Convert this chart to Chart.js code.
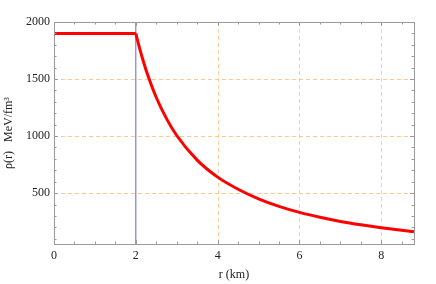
<!DOCTYPE html>
<html>
<head>
<meta charset="utf-8">
<script src="https://cdn.jsdelivr.net/npm/chart.js@4"></script>
<style>
html,body{margin:0;padding:0;background:#fff;}
#wrap{width:436px;height:284px;}
</style>
</head>
<body>
<div id="wrap"><canvas id="c" width="436" height="284"></canvas></div>
<script>
// ---- data ----
const coreR = [0, 2];
const coreRho = [1900, 1900];
const outerR = [2, 2.1, 2.2, 2.3, 2.5, 2.75, 3, 3.5, 4, 4.5, 5, 5.5, 6, 6.5, 7, 7.5, 8, 8.5, 8.8];
const outerRho = [1900, 1760, 1636, 1526, 1338, 1153, 1005, 789, 640, 534, 450, 384, 331, 288, 252, 222, 196, 174, 162];
const boundaryR = 2;
const xTicks = [0, 2, 4, 6, 8];
const yTicks = [500, 1000, 1500, 2000];
const xGridAt = [4, 6, 8];
const yGridAt = [500, 1000, 1500];
const xRange = [0, 8.8];
const yRange = [54, 2000];

const toPts = (xs, ys) => xs.map((x, i) => ({x: x, y: ys[i]}));

const gridPlugin = {
  id: 'mgrid',
  beforeDatasetsDraw(chart) {
    const {ctx, chartArea: a, scales: {x, y}} = chart;
    ctx.save();
    ctx.lineWidth = 1;
    ctx.setLineDash([4, 3]);
    ctx.strokeStyle = 'rgb(255,205,155)';
    ctx.beginPath();
    xGridAt.forEach(v => {
      const px = Math.round(x.getPixelForValue(v)) + 0.5;
      ctx.moveTo(px, a.top); ctx.lineTo(px, a.bottom);
    });
    ctx.stroke();
    ctx.strokeStyle = 'rgb(255,200,145)';
    ctx.beginPath();
    yGridAt.forEach(v => {
      const py = Math.round(y.getPixelForValue(v)) + 0.5;
      ctx.moveTo(a.left, py); ctx.lineTo(a.right, py);
    });
    ctx.stroke();
    ctx.restore();
  }
};

const framePlugin = {
  id: 'frame',
  afterDatasetsDraw(chart) {
    const {ctx, chartArea: a, scales: {x, y}} = chart;
    ctx.save();
    ctx.strokeStyle = '#9a9a9a';
    ctx.lineWidth = 1;
    ctx.strokeRect(a.left + 0.5, a.top + 0.5, a.right - a.left, a.bottom - a.top);
    ctx.beginPath();
    for (let v = xRange[0]; v <= xRange[1] + 1e-9; v += 0.5) {
      const px = Math.round(x.getPixelForValue(v)) + 0.5;
      const major = Math.abs(v / 2 - Math.round(v / 2)) < 1e-6;
      const L = major ? 4 : 2.5;
      ctx.moveTo(px, a.bottom); ctx.lineTo(px, a.bottom - L);
      ctx.moveTo(px, a.top); ctx.lineTo(px, a.top + L);
    }
    for (let v = 100; v <= yRange[1] + 1e-9; v += 100) {
      const py = Math.round(y.getPixelForValue(v)) + 0.5;
      const major = v % 500 === 0;
      const L = major ? 4 : 2.5;
      ctx.moveTo(a.left, py); ctx.lineTo(a.left + L, py);
      ctx.moveTo(a.right, py); ctx.lineTo(a.right - L, py);
    }
    ctx.stroke();
    ctx.restore();
  }
};

const noGrid = {display: true, drawOnChartArea: false, drawTicks: false, color: 'rgba(0,0,0,0)'};

new Chart(document.getElementById('c'), {
  type: 'line',
  data: {
    datasets: [
      {
        data: [{x: boundaryR, y: yRange[0]}, {x: boundaryR, y: yRange[1]}],
        borderColor: 'rgb(100,100,215)', borderWidth: 1, pointRadius: 0, order: 2
      },
      {
        data: toPts(coreR, coreRho),
        borderColor: 'rgb(255,0,0)', borderWidth: 3, pointRadius: 0, order: 1
      },
      {
        data: toPts(outerR, outerRho),
        borderColor: 'rgb(255,0,0)', borderWidth: 3, pointRadius: 0,
        cubicInterpolationMode: 'monotone', order: 1
      }
    ]
  },
  options: {
    responsive: false,
    animation: false,
    layout: {padding: {top: 22, right: 22, left: 0, bottom: 0}},
    plugins: {legend: {display: false}, tooltip: {enabled: false}},
    scales: {
      x: {
        type: 'linear', min: xRange[0], max: xRange[1],
        afterBuildTicks: s => { s.ticks = xTicks.map(v => ({value: v})); },
        afterFit: s => { s.height = 40; },
        ticks: {color: '#222', font: {family: 'Liberation Serif', size: 12}, padding: 5,
                callback: v => String(v)},
        grid: noGrid,
        border: {display: false},
        title: {display: true, text: 'r (km)', color: '#222',
                font: {family: 'Liberation Serif', size: 12}, padding: {top: 3, bottom: 2}}
      },
      y: {
        type: 'linear', min: yRange[0], max: yRange[1],
        afterBuildTicks: s => { s.ticks = yTicks.map(v => ({value: v})); },
        afterFit: s => { s.width = 54; },
        ticks: {color: '#222', font: {family: 'Liberation Serif', size: 12}, padding: 4,
                callback: v => String(v)},
        grid: noGrid,
        border: {display: false},
        title: {display: true, text: 'ρ(r)   MeV/fm³', color: '#222',
                font: {family: 'Liberation Serif', size: 12}, padding: {top: 2, bottom: 0}}
      }
    }
  },
  plugins: [gridPlugin, framePlugin]
});
</script>
</body>
</html>
